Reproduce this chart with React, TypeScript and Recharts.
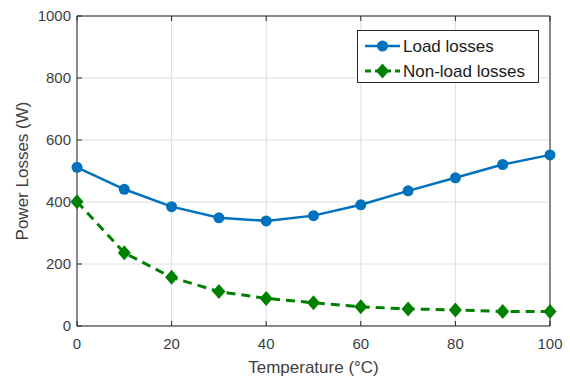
import React from 'react';
import { LineChart, Line, XAxis, YAxis, CartesianGrid, Legend } from 'recharts';

const temperatures = [0, 10, 20, 30, 40, 50, 60, 70, 80, 90, 100];
const loadLosses = [512, 441, 385, 349, 339, 356, 391, 436, 478, 521, 552];
const nonLoadLosses = [401, 236, 157, 111, 89, 75, 62, 55, 52, 47, 47];
const xTicks = [0, 20, 40, 60, 80, 100];
const yTicks = [0, 200, 400, 600, 800, 1000];

const data = temperatures.map((t, i) => ({ temp: t, load: loadLosses[i], nonload: nonLoadLosses[i] }));

const BLUE = '#0072BD';
const GREEN = '#008000';
const AXIS = '#262626';
const TEXT = '#404040';
const FONT = '"Liberation Sans", Arial, Helvetica, sans-serif';

const Diamond = (props: any) => {
  const { cx, cy, index } = props;
  if (cx == null || cy == null) return <g key={`d${index}`} />;
  return (
    <polygon
      key={`d${index}`}
      points={`${cx},${cy - 7.5} ${cx + 6.5},${cy} ${cx},${cy + 7.5} ${cx - 6.5},${cy}`}
      fill={GREEN}
      stroke="none"
    />
  );
};

const YLabel = (props: any) => {
  const vb = props.viewBox || { x: 0, y: 0, width: 0, height: 0 };
  const x = vb.x + 22;
  const y = vb.y + vb.height / 2;
  return (
    <text x={x} y={y} transform={`rotate(-90, ${x}, ${y})`} textAnchor="middle" dominantBaseline="central"
      fontSize={17} fill={TEXT} fontFamily={FONT}>
      Power Losses (W)
    </text>
  );
};

const XLabel = (props: any) => {
  const vb = props.viewBox || { x: 0, y: 0, width: 0, height: 0 };
  const x = vb.x + vb.width / 2;
  const y = vb.y + 41;
  return (
    <text x={x} y={y} textAnchor="middle" dominantBaseline="central" fontSize={17} fill={TEXT} fontFamily={FONT}>
      Temperature (°C)
    </text>
  );
};

const LegendBox = () => {
  const rows = [
    { name: 'Load losses', color: BLUE, dash: undefined as string | undefined, marker: 'circle' },
    { name: 'Non-load losses', color: GREEN, dash: '6 4', marker: 'diamond' },
  ];
  return (
    <svg width={182} height={53} style={{ display: 'block' }}>
      <rect x={0.5} y={0.5} width={181} height={52} fill="#fff" stroke={AXIS} strokeWidth={1} />
      {rows.map((r, i) => {
        const cy = 16 + 25 * i;
        return (
          <g key={r.name}>
            <line x1={8} x2={43} y1={cy} y2={cy} stroke={r.color} strokeWidth={r.marker === 'circle' ? 2.5 : 3}
              strokeDasharray={r.dash} />
            {r.marker === 'circle' ? (
              <circle cx={25.5} cy={cy} r={5.5} fill={r.color} />
            ) : (
              <polygon points={`25.5,${cy - 7.5} 32,${cy} 25.5,${cy + 7.5} 19,${cy}`} fill={r.color} />
            )}
            <text x={46} y={cy} dominantBaseline="central" fontSize={17} fill="#1a1a1a" fontFamily={FONT}>
              {r.name}
            </text>
          </g>
        );
      })}
    </svg>
  );
};

export default function App() {
  return (
    <div style={{ position: 'absolute', left: 0, top: 0, background: '#fff' }}>
      <LineChart width={570} height={378} data={data} margin={{ top: 16, right: 20, bottom: 0, left: 0 }}>
        <CartesianGrid stroke="#dedede" strokeWidth={1} />
        <XAxis
          dataKey="temp"
          type="number"
          domain={[0, 100]}
          ticks={xTicks}
          height={52}
          tickSize={-5}
          tickMargin={17}
          axisLine={{ stroke: AXIS }}
          tickLine={{ stroke: AXIS }}
          tick={{ fontSize: 15, fill: TEXT, fontFamily: FONT }}
          label={<XLabel />}
        />
        <XAxis
          xAxisId="top"
          orientation="top"
          mirror
          dataKey="temp"
          type="number"
          domain={[0, 100]}
          ticks={xTicks}
          tickSize={5}
          axisLine={{ stroke: AXIS }}
          tickLine={{ stroke: AXIS }}
          tickFormatter={() => ''}
        />
        <YAxis
          type="number"
          domain={[0, 1000]}
          ticks={yTicks}
          width={77}
          tickSize={-5}
          tickMargin={11}
          axisLine={{ stroke: AXIS }}
          tickLine={{ stroke: AXIS }}
          tick={{ fontSize: 15, fill: TEXT, fontFamily: FONT }}
          label={<YLabel />}
        />
        <YAxis
          yAxisId="right"
          orientation="right"
          mirror
          type="number"
          domain={[0, 1000]}
          ticks={yTicks}
          tickSize={5}
          axisLine={{ stroke: AXIS }}
          tickLine={{ stroke: AXIS }}
          tickFormatter={() => ''}
        />
        <Legend
          layout="vertical"
          align="center"
          verticalAlign="middle"
          content={<LegendBox />}
          wrapperStyle={{ position: 'absolute', left: 357, top: 30, width: 182, height: 53 }}
        />
        <Line
          type="linear"
          dataKey="load"
          name="Load losses"
          stroke={BLUE}
          strokeWidth={2.5}
          dot={{ r: 5.5, fill: BLUE, stroke: BLUE, strokeWidth: 0 }}
          activeDot={false}
          isAnimationActive={false}
        />
        <Line
          type="linear"
          dataKey="nonload"
          name="Non-load losses"
          stroke={GREEN}
          strokeWidth={3}
          strokeDasharray="9 6"
          dot={Diamond}
          activeDot={false}
          isAnimationActive={false}
        />
      </LineChart>
    </div>
  );
}
